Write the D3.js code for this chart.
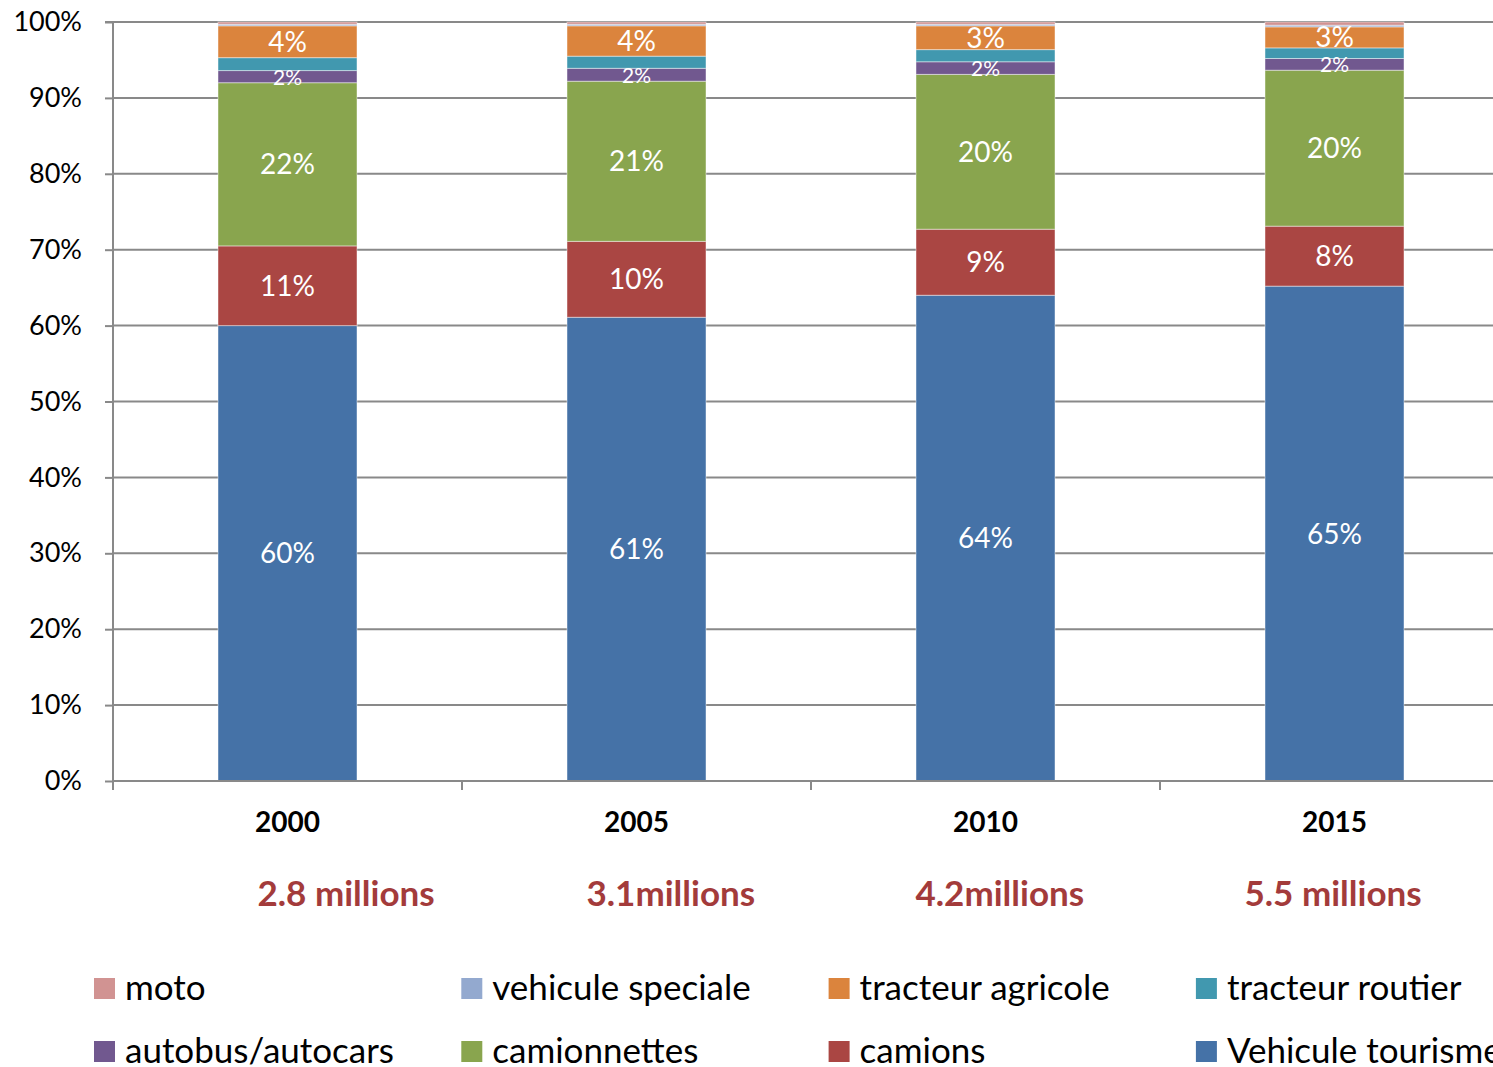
<!DOCTYPE html>
<html><head><meta charset="utf-8">
<script src="https://cdn.jsdelivr.net/npm/d3@7"></script>
<style>body{margin:0;background:#fff}svg{display:block;font-family:Lato,"Open Sans",sans-serif}</style>
</head><body><svg id="c" width="1493" height="1067"></svg>
<script>
const years = ["2000","2005","2010","2015"];
const totals = ["2.8 millions","3.1millions","4.2millions","5.5 millions"];
const series = ["Vehicule tourisme","camions","camionnettes","autobus/autocars","tracteur routier","tracteur agricole","vehicule speciale","moto"];
const colors = ["#4572A7","#AA4643","#89A54E","#71588F","#4198AF","#DB843D","#93A9CF","#D19392"];
const vTourisme = [60.0,61.1,64.0,65.2];
const vCamions = [10.5,10.0,8.7,7.9];
const vCamionnettes = [21.5,21.1,20.4,20.55];
const vAutobus = [1.6,1.7,1.66,1.54];
const vRoutier = [1.7,1.6,1.6,1.4];
const vAgricole = [4.2,4.0,3.14,2.77];
const vSpeciale = [0.2,0.2,0.2,0.22];
const vMoto = [0.3,0.3,0.3,0.42];
const labels = [["60%","61%","64%","65%"],["11%","10%","9%","8%"],["22%","21%","20%","20%"],["2%","2%","2%","2%"],null,["4%","4%","3%","3%"],null,null];
const yTicks = [0,10,20,30,40,50,60,70,80,90,100];
const legendOrder = ["moto","vehicule speciale","tracteur agricole","tracteur routier","autobus/autocars","camionnettes","camions","Vehicule tourisme"];

const vals = [vTourisme,vCamions,vCamionnettes,vAutobus,vRoutier,vAgricole,vSpeciale,vMoto];
const rows = years.map((y,i)=>{const o={year:y}; series.forEach((s,k)=>o[s]=vals[k][i]); return o;});
const stack = d3.stack().keys(series)(rows);

const svg = d3.select("#c");
const x0 = 113, x1 = 1509, yTop = 22, yBot = 781;
const x = d3.scaleBand().domain(years).range([x0,x1]).paddingInner(0).paddingOuter(0);
const y = d3.scaleLinear().domain([0,100]).range([yBot,yTop]);
const bw = 139;

// gridlines
svg.append("g").selectAll("line").data(yTicks.filter(t=>t>0)).join("line")
 .attr("x1",x0).attr("x2",1493).attr("y1",d=>y(d)).attr("y2",d=>y(d))
 .attr("stroke","#898989").attr("stroke-width",2);

// y axis
const ya = svg.append("g").attr("transform",`translate(${x0},0)`)
 .call(d3.axisLeft(y).tickValues(yTicks).tickFormat(d=>d+"%").tickSize(8).tickPadding(23));
ya.select(".domain").attr("stroke","#898989").attr("stroke-width",2).attr("d",`M-8,${yTop}H0V${yBot}`);
ya.selectAll(".tick line").attr("stroke","#898989").attr("stroke-width",2);
ya.selectAll(".tick text").attr("font-size",27).attr("fill","#000").attr("font-family","Lato");

// bars
const g = svg.append("g");
stack.forEach((layer,k)=>{
  g.append("g").selectAll("rect").data(layer).join("rect")
   .attr("x",d=>x(d.data.year)+x.bandwidth()/2-bw/2).attr("width",bw)
   .attr("y",d=>y(d[1])).attr("height",d=>y(d[0])-y(d[1]))
   .attr("fill",colors[k]).attr("stroke","rgba(255,255,255,0.45)").attr("stroke-width",1);
});

// x axis
svg.append("line").attr("x1",x0).attr("x2",1493).attr("y1",yBot).attr("y2",yBot).attr("stroke","#898989").attr("stroke-width",2);
svg.append("g").selectAll("line").data(years).join("line")
 .attr("x1",d=>x(d)).attr("x2",d=>x(d)).attr("y1",yBot).attr("y2",yBot+9)
 .attr("stroke","#898989").attr("stroke-width",2);

// segment labels
stack.forEach((layer,k)=>{
  if(!labels[k]) return;
  const small = k===3;
  g.append("g").selectAll("text").data(layer).join("text")
   .attr("x",d=>x(d.data.year)+x.bandwidth()/2)
   .attr("y",d=>(y(d[0])+y(d[1]))/2)
   .attr("dy", small? "0.38em":"0.36em")
   .attr("text-anchor","middle").attr("fill","#fff")
   .attr("font-size", small?21:28)
   .text((d,i)=>labels[k][i]);
});

// year labels
svg.append("g").selectAll("text").data(years).join("text")
 .attr("x",d=>x(d)+x.bandwidth()/2).attr("y",832)
 .attr("text-anchor","middle").attr("font-size",28).attr("font-weight","bold").attr("fill","#000")
 .text(d=>d);

// totals annotations
const offs = [-30,-50,-70,-90];
svg.append("g").selectAll("text").data(totals).join("text")
 .attr("x",(d,i)=>x(years[i])+x.bandwidth()/2+offs[i]).attr("y",906)
 .attr("font-size",35).attr("font-weight","bold").attr("fill","#A33B3B")
 .text(d=>d);

// legend
const lg = svg.append("g");
legendOrder.forEach((name,i)=>{
  const col=i%4,row=Math.floor(i/4);
  const lx=94+col*367.3, ly=988+row*63;
  const k=series.indexOf(name);
  lg.append("rect").attr("x",lx).attr("y",ly-10).attr("width",21).attr("height",21).attr("fill",colors[k]);
  lg.append("text").attr("x",lx+31).attr("y",ly).attr("dy","0.35em").attr("font-size",35).attr("fill","#000").text(name);
});
</script></body></html>
